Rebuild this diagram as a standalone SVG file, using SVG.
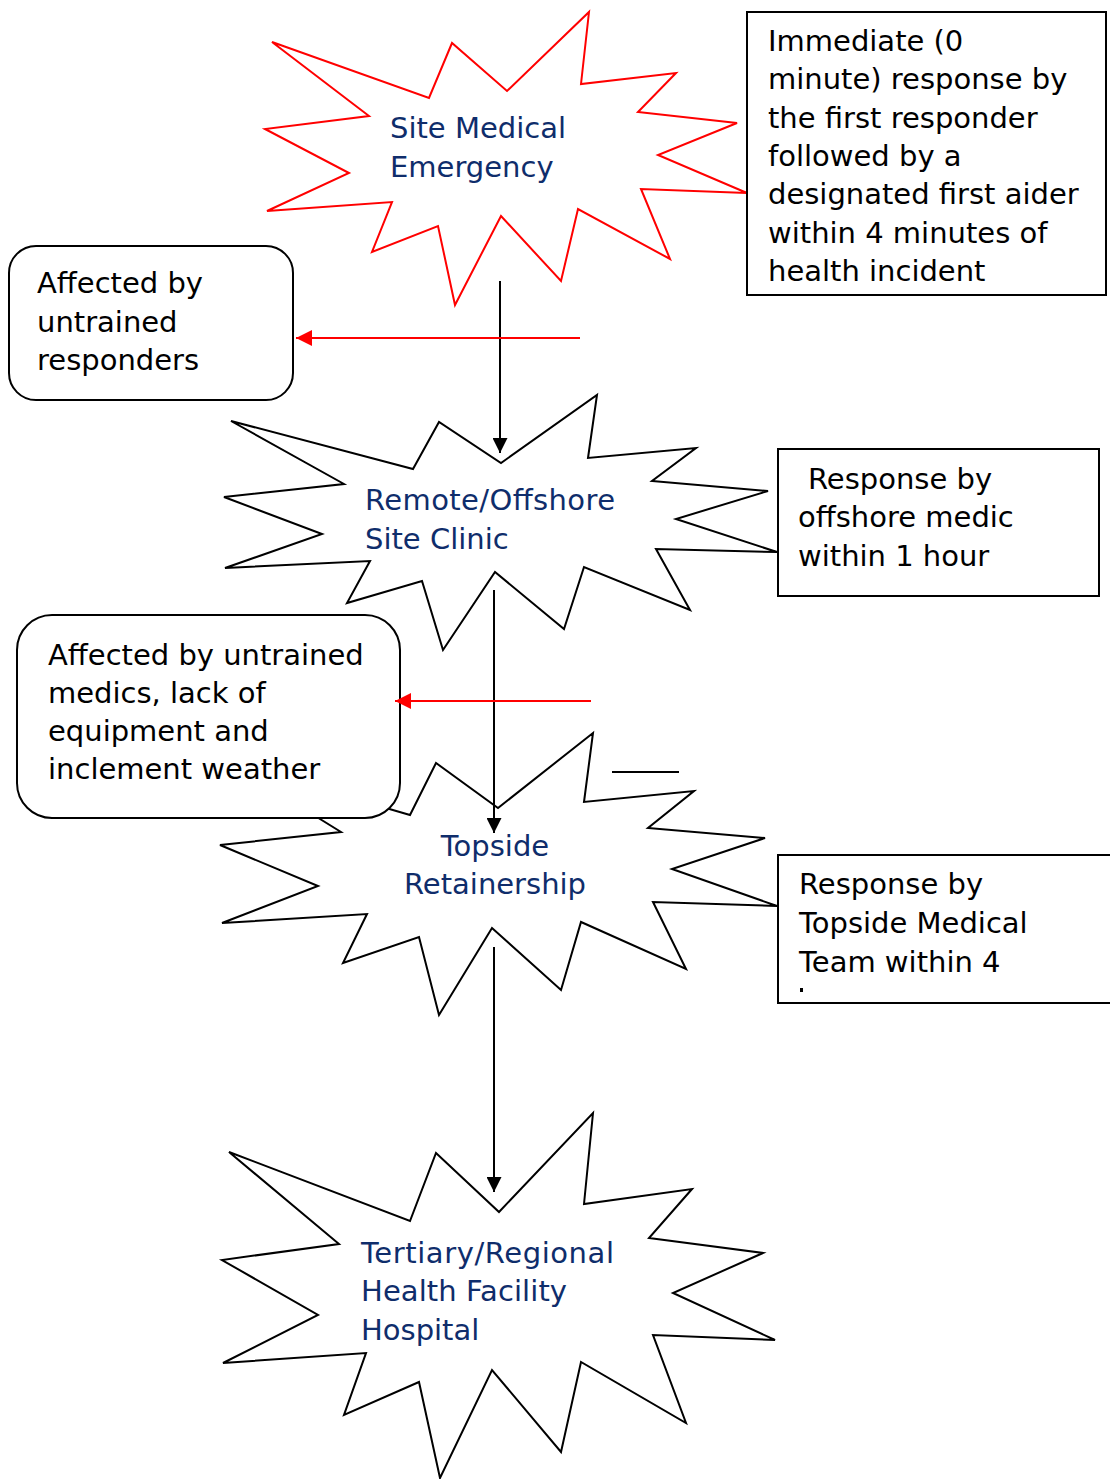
<svg xmlns="http://www.w3.org/2000/svg" width="1110" height="1479" viewBox="0 0 1110 1479">
  <style>
    .star { fill: #ffffff; stroke: #000000; stroke-width: 2; stroke-linejoin: miter; }
    .star-red { fill: #ffffff; stroke: #ff0000; stroke-width: 2; stroke-linejoin: miter; }
    .box { fill: #ffffff; stroke: #000000; stroke-width: 2; }
    .label { font-family: "DejaVu Sans", Verdana, sans-serif; font-size: 29px; fill: #0f2d6b; }
    .note { font-family: "DejaVu Sans", Verdana, sans-serif; font-size: 29px; fill: #000000; }
    .flow { stroke: #000000; stroke-width: 2; fill: none; }
    .cause { stroke: #ff0000; stroke-width: 2; fill: none; }
  </style>
  <defs>
    <marker id="arrow-black" viewBox="0 0 15 15" refX="15" refY="7.5" markerWidth="15" markerHeight="15" markerUnits="userSpaceOnUse" orient="auto">
      <path d="M0,0 L15,7.5 L0,15 z" fill="#000000"/>
    </marker>
    <marker id="arrow-red" viewBox="0 0 16 16" refX="16" refY="8" markerWidth="16" markerHeight="16" markerUnits="userSpaceOnUse" orient="auto">
      <path d="M0,0 L16,8 L0,16 z" fill="#ff0000"/>
    </marker>
  </defs>

  <!-- Stage 1: site medical emergency -->
  <g id="node-site-emergency">
    <polygon class="star-red" points="272,42 429,98 452,43 507,91 589,12 581,84 676,73 638,112 737,123 658,155 747,193 641,189 670,259 578,209 561,281 501,216 455,305 438,226 372,252 392,202 267,211 349,173 265,129 369,116"/>
    <text class="label" x="390" y="138">Site Medical</text>
    <text class="label" x="390" y="177">Emergency</text>
  </g>

  <!-- Stage 2: remote / offshore clinic -->
  <g id="node-offshore-clinic">
    <polygon class="star" points="231,421 413,469 439,422 501,463 597,395 588,458 696,448 652,481 768,491 676,519 777,552 656,549 690,610 584,567 564,629 495,572 443,650 422,581 347,603 370,561 225,568 322,534 224,497 344,484"/>
    <text class="label" x="365" y="510" textLength="250" lengthAdjust="spacing">Remote/Offshore</text>
    <text class="label" x="365" y="549">Site Clinic</text>
  </g>

  <!-- Stage 3: topside retainership -->
  <g id="node-topside">
    <polygon class="star" points="228,762 410,815 436,763 498,808 593,733 584,802 694,791 648,828 765,838 672,869 777,906 653,902 686,969 581,922 561,990 492,928 439,1015 419,937 343,963 367,914 222,923 318,886 220,845 341,832"/>
    <text class="label" x="495" y="856" text-anchor="middle">Topside</text>
    <text class="label" x="495" y="894" text-anchor="middle">Retainership</text>
  </g>

  <!-- Stage 4: tertiary / regional facility -->
  <g id="node-hospital">
    <polygon class="star" points="229,1152 410,1221 436,1153 499,1212 593,1113 584,1204 692,1189 649,1238 763,1253 673,1293 775,1340 653,1335 686,1423 581,1362 561,1452 492,1370 440,1478 419,1382 344,1415 366,1353 223,1363 318,1315 222,1260 339,1244"/>
    <text class="label" x="361" y="1263" textLength="253" lengthAdjust="spacing">Tertiary/Regional</text>
    <text class="label" x="361" y="1301" textLength="206" lengthAdjust="spacing">Health Facility</text>
    <text class="label" x="361" y="1340">Hospital</text>
  </g>

  <!-- Response-time notes -->
  <g id="note-first-responder">
    <rect class="box" x="747" y="12" width="359" height="283"/>
    <text class="note" x="768" y="51">Immediate (0</text>
    <text class="note" x="768" y="89">minute) response by</text>
    <text class="note" x="768" y="128">the first responder</text>
    <text class="note" x="768" y="166">followed by a</text>
    <text class="note" x="768" y="204">designated first aider</text>
    <text class="note" x="768" y="243">within 4 minutes of</text>
    <text class="note" x="768" y="281">health incident</text>
  </g>

  <g id="note-offshore-medic">
    <rect class="box" x="778" y="449" width="321" height="147"/>
    <text class="note" x="808" y="489">Response by</text>
    <text class="note" x="798" y="527">offshore medic</text>
    <text class="note" x="798" y="566">within 1 hour</text>
  </g>

  <g id="note-topside-team">
    <rect class="box" x="778" y="855" width="345" height="148"/>
    <text class="note" x="799" y="894">Response by</text>
    <text class="note" x="799" y="933">Topside Medical</text>
    <text class="note" x="799" y="972">Team within 4</text>
    <rect x="800" y="988" width="3" height="4" fill="#000000"/>
  </g>

  <!-- Contributing factors -->
  <g id="factor-untrained-responders">
    <rect class="box" x="9" y="246" width="284" height="154" rx="27" ry="27"/>
    <text class="note" x="37" y="293">Affected by</text>
    <text class="note" x="37" y="332">untrained</text>
    <text class="note" x="37" y="370">responders</text>
  </g>

  <g id="factor-medics-weather">
    <rect class="box" x="17" y="615" width="383" height="203" rx="35" ry="35"/>
    <text class="note" x="48" y="665">Affected by untrained</text>
    <text class="note" x="48" y="703">medics, lack of</text>
    <text class="note" x="48" y="741">equipment and</text>
    <text class="note" x="48" y="779">inclement weather</text>
  </g>

  <!-- Connectors -->
  <g id="connectors">
    <line class="flow" x1="500" y1="281" x2="500" y2="453" marker-end="url(#arrow-black)"/>
    <line class="cause" x1="580" y1="338" x2="296" y2="338" marker-end="url(#arrow-red)"/>
    <line class="flow" x1="494" y1="590" x2="494" y2="833" marker-end="url(#arrow-black)"/>
    <line class="cause" x1="591" y1="701" x2="395" y2="701" marker-end="url(#arrow-red)"/>
    <line class="flow" x1="494" y1="947" x2="494" y2="1192" marker-end="url(#arrow-black)"/>
    <line class="flow" x1="612" y1="772" x2="679" y2="772"/>
  </g>
</svg>
